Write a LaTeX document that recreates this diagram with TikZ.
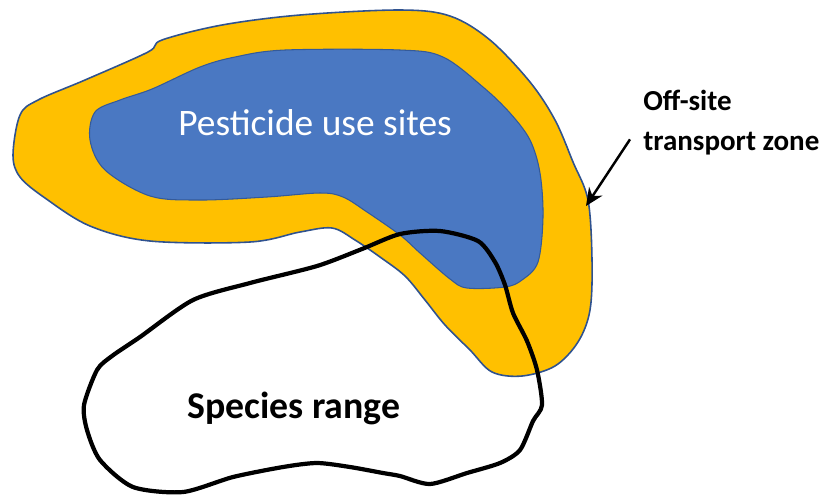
\documentclass[tikz,border=0pt]{standalone}
\usepackage{fontspec}
\setmainfont{Carlito}
\usetikzlibrary{arrows.meta}
\definecolor{zoneor}{HTML}{FFC000}
\definecolor{siteblue}{HTML}{4A78C2}
\definecolor{edgeblue}{HTML}{2F528F}
\tikzset{
  zonefill/.style={fill=zoneor, draw=edgeblue, line width=0.9pt},
  sitefill/.style={fill=siteblue, draw=edgeblue!80!siteblue, line width=0.6pt},
  rangeline/.style={draw=black, line width=2.4pt, line join=round},
  lbl/.style={inner sep=0pt, anchor=base west},
  pointer/.style={-{Stealth[length=10pt,width=9pt]}, line width=1.4pt}
}
\begin{document}
\begin{tikzpicture}[x=0.02cm, y=-0.02cm]
\useasboundingbox (0,0) rectangle (820,495);
% off-site transport zone
\draw[zonefill] plot[smooth cycle, tension=0.55] coordinates {
 (13,155) (20,115) (38,100) (85,80) (148,52) (162,40) (222,25) (300,15)
 (400,10) (450,16) (490,40) (530,82) (555,120) (573,162) (588,200)
 (592,260) (590,310) (578,342) (555,366) (522,376) (492,372) (470,350)
 (445,325) (425,300) (405,276) (380,257) (355,240) (332,228) (300,232)
 (250,242) (150,241) (90,226) (45,198) (20,177)};
% pesticide use sites
\draw[sitefill] plot[smooth cycle, tension=0.55] coordinates {
 (90,140) (95,112) (120,100) (152,89) (200,67) (235,57) (285,50) (400,50)
 (443,57) (483,87) (510,113) (530,140) (540,173) (543,217) (538,262)
 (522,280) (505,287) (467,288) (450,279) (420,253) (400,235) (367,212)
 (343,197) (320,193) (267,197) (200,200) (150,196) (105,170)};
% species range
\draw[rangeline] plot[smooth cycle, tension=0.45] coordinates {
 (400,234) (440,231) (478,241) (495,262) (505,285) (513,313) (527,341)
 (537,370) (542,405) (533,421) (520,450) (500,463) (467,473) (430,484)
 (400,476) (383,473) (350,467) (317,463) (283,467) (233,477) (183,492)
 (133,487) (100,460) (87,430) (84,405) (97,370) (112,356) (140,337)
 (193,300) (250,283) (317,266) (362,249)};
% labels
\node[lbl, text=white, font=\fontsize{21.3}{25}\selectfont] (pest) at (178,135) {Pesticide use sites};
\node[lbl, font=\bfseries\fontsize{21.5}{25}\selectfont] (spec) at (187,418) {Species range};
\node[lbl, font=\bfseries\fontsize{16.5}{20}\selectfont] (off) at (643,110) {Off-site};
\node[lbl, font=\bfseries\fontsize{16.5}{20}\selectfont] (trans) at (643,150) {transport zone};
\coordinate (tip) at (586,206);
\draw[pointer] ([shift={(-13,8)}]trans.north west) -- (tip);
\end{tikzpicture}
\end{document}
